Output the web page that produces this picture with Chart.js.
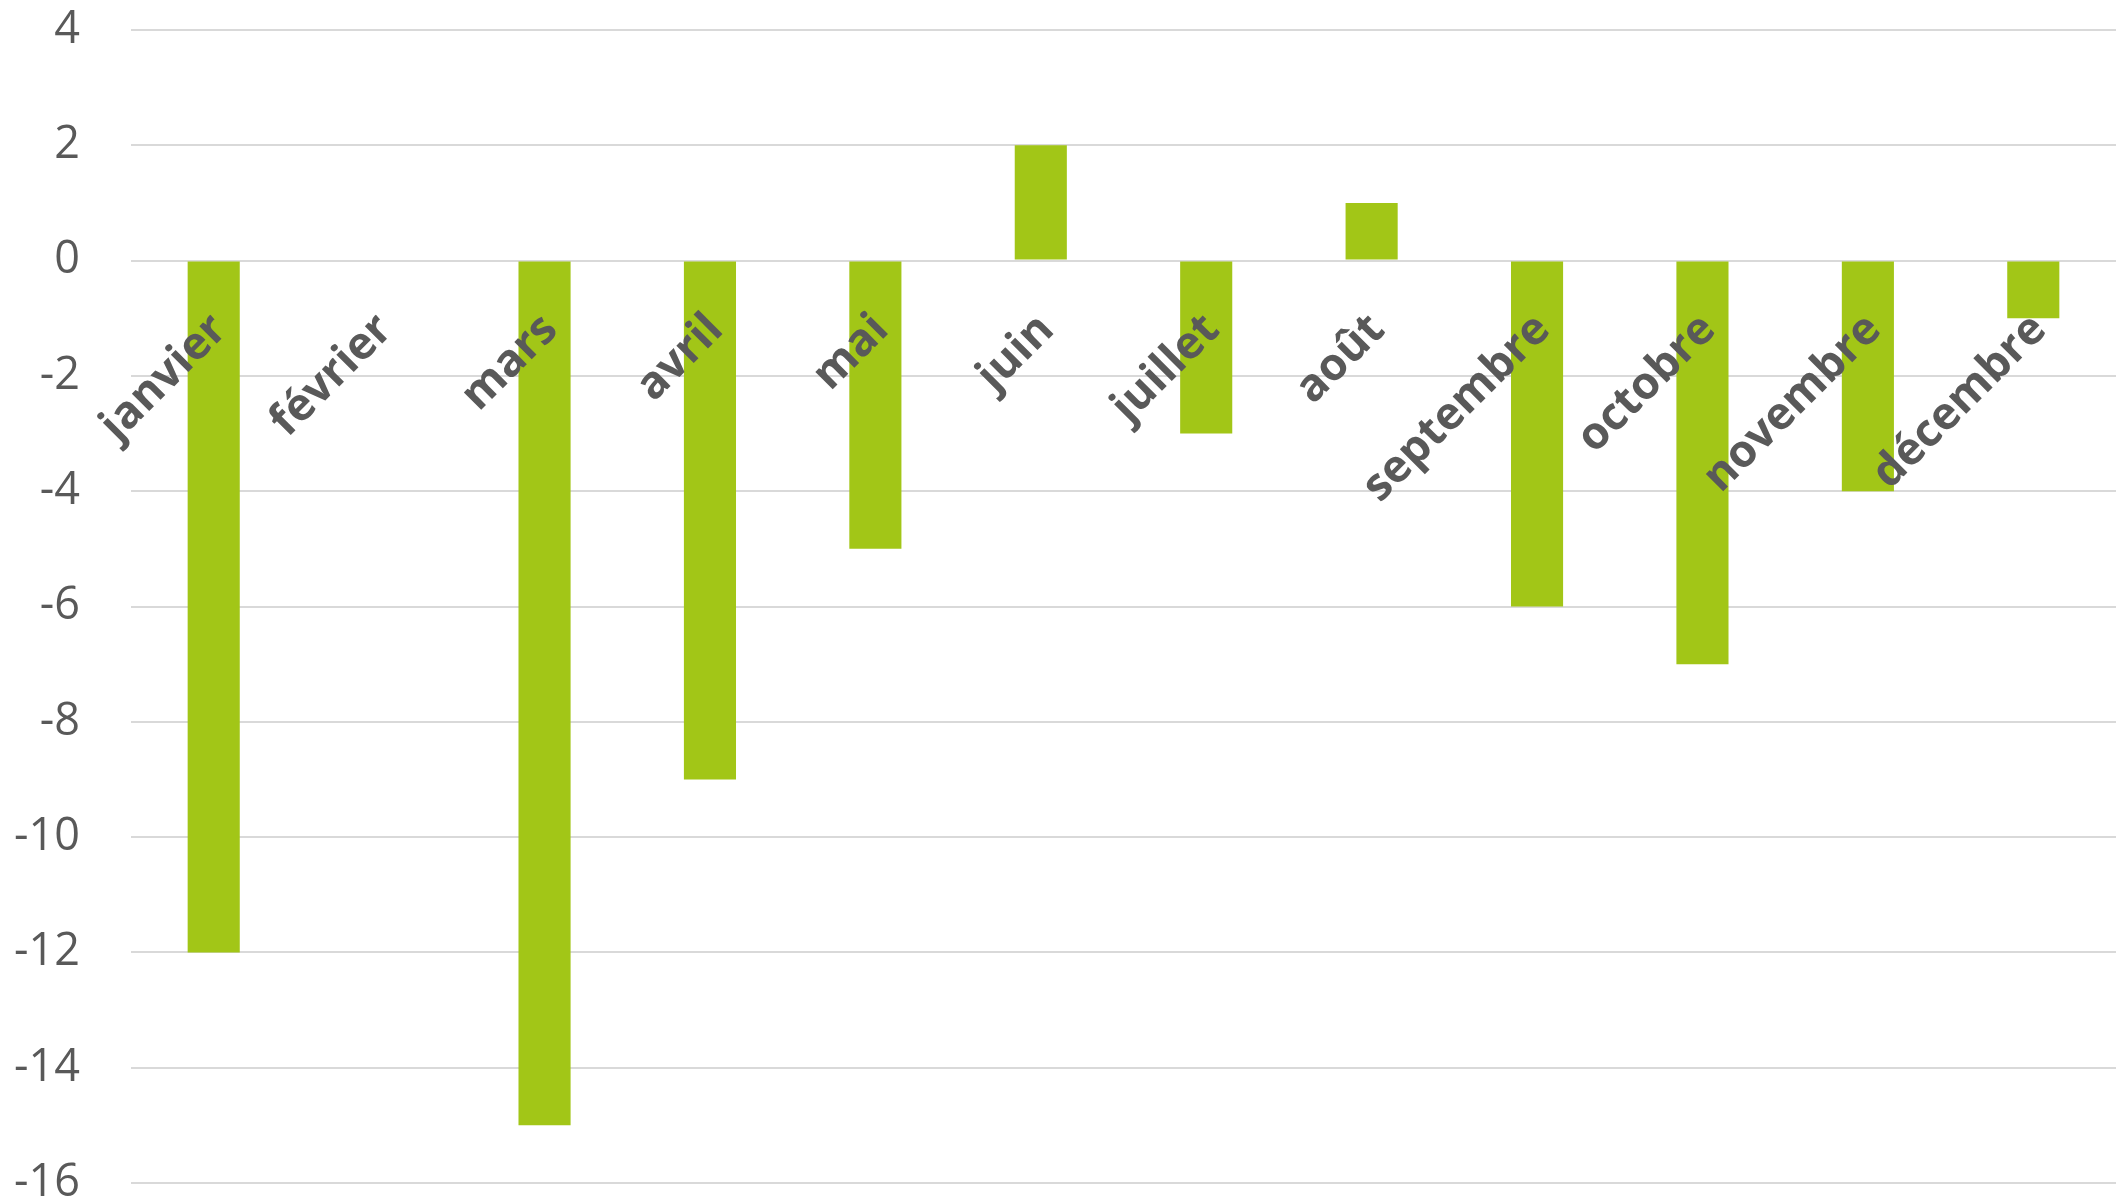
<!DOCTYPE html>
<html>
<head>
<meta charset="utf-8">
<script src="https://cdn.jsdelivr.net/npm/chart.js@4/dist/chart.umd.min.js"></script>
<style>
  body { margin: 0; background: #fff; }
  #wrap { width: 2116px; height: 1203px; position: relative; }
</style>
</head>
<body>
<div id="wrap"><canvas id="myChart"></canvas></div>
<script>
// data
const months = ["janvier", "février", "mars", "avril", "mai", "juin",
  "juillet", "août", "septembre", "octobre", "novembre", "décembre"];
const values = [-12, 0, -15, -9, -5, 2, -3, 1, -6, -7, -4, -1];
const yTicks = [4, 2, 0, -2, -4, -6, -8, -10, -12, -14, -16];

const textColor = "#595959";
const gridColor = "#d9d9d9";

const ctx = document.getElementById("myChart");

new Chart(ctx, {
  type: "bar",
  data: {
    labels: months,
    datasets: [
      {
        data: values,
        backgroundColor: "#a2c617",
        borderWidth: 0,
        categoryPercentage: 1,
        barPercentage: 0.315,
      },
    ],
  },
  options: {
    responsive: true,
    maintainAspectRatio: false,
    animation: false,
    layout: {
      padding: 0,
    },
    plugins: {
      legend: { display: false },
      tooltip: { enabled: false },
    },
    scales: {
      x: {
        position: { y: 0 },
        grid: { display: false, drawTicks: false },
        border: { display: false },
        ticks: {
          z: 1, // labels over the bars, like the original
          color: textColor,
          font: { family: "'Open Sans'", size: 45, weight: "bold", lineHeight: 1 },
          minRotation: 45,
          maxRotation: 45,
          autoSkip: false,
          padding: 46,
          labelOffset: 6,
        },
      },
      y: {
        min: -16,
        max: 4,
        afterBuildTicks: function (scale) {
          scale.ticks = yTicks.map((v) => ({ value: v }));
        },
        afterFit: function (scale) {
          scale.width = 131;
          // tick padding is only meant horizontally here
          scale.paddingTop = 30;
          scale.paddingBottom = 20;
        },
        grid: { color: gridColor, lineWidth: 2, drawTicks: false },
        border: { display: false },
        ticks: {
          color: textColor,
          font: { family: "'Open Sans'", size: 45, lineHeight: 1 },
          padding: 51,
        },
      },
    },
  },
});
</script>
</body>
</html>
